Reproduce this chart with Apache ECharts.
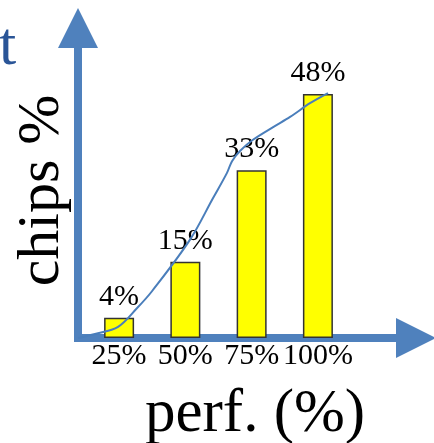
<!DOCTYPE html>
<html><head><meta charset="utf-8">
<script src="https://cdn.jsdelivr.net/npm/echarts@6/dist/echarts.min.js"></script>
<style>html,body{margin:0;padding:0;background:#fff}#c{width:434px;height:443px}</style>
</head><body><div id="c"></div>
<script>
const perfLevels = [25, 50, 75, 100];
const chipShare = [4, 15, 33, 48];
const tickLabels = ['25%', '50%', '75%', '100%'];
const trendPerf = [9.5, 15.9, 24.6, 31.8, 37.4, 51.7, 60.4, 65.7, 67.6, 70.6, 75.5, 83.1, 89.5, 97.0, 103.8];
const trendShare = [0, 0.8, 2.2, 5.9, 9.2, 19.3, 27.5, 32.5, 34.8, 36.8, 39.0, 41.5, 43.5, 46.2, 48.2];
const yAxisTitle = 'chips %';
const xAxisTitle = 'perf. (%)';
const cornerText = 't';

const serif = '"Liberation Serif", "Times New Roman", serif';
const axisBlue = '#4f81bd';

const chart = echarts.init(document.getElementById('c'), null, {renderer: 'canvas'});
chart.setOption({
  animation: false,
  backgroundColor: '#fff',
  title: {
    text: cornerText, left: -1, top: 17, padding: 0,
    textStyle: {fontFamily: serif, fontSize: 62, fontWeight: 'normal', color: '#2a5597'}
  },
  grid: {left: 78, right: 18, top: 28, bottom: 105, containLabel: false, outerBoundsMode: 'none'},
  xAxis: {
    type: 'value', min: 9.5, max: 137,
    name: xAxisTitle, nameLocation: 'middle', nameGap: 46,
    nameTextStyle: {fontFamily: serif, fontSize: 61, color: '#000', padding: [0, 0, 0, 16]},
    axisLine: {show: true, symbol: ['none', 'triangle'], symbolSize: [40, 40],
      lineStyle: {color: axisBlue, width: 8, cap: 'square'}},
    axisTick: {show: false},
    splitLine: {show: false},
    axisLabel: {
      show: true, customValues: perfLevels, margin: 3,
      fontFamily: serif, fontSize: 30, color: '#000',
      formatter: v => tickLabels[perfLevels.indexOf(v)] || ''
    }
  },
  yAxis: {
    type: 'value', min: 0, max: 61,
    name: yAxisTitle, nameLocation: 'middle', nameGap: 6,
    nameTextStyle: {fontFamily: serif, fontSize: 60, color: '#000', padding: [0, 15, 0, 0]},
    axisLine: {show: true, symbol: ['none', 'triangle'], symbolSize: [40, 40],
      lineStyle: {color: axisBlue, width: 8, cap: 'square'}},
    axisTick: {show: false},
    splitLine: {show: false},
    axisLabel: {show: false}
  },
  series: [
    {
      type: 'bar',
      data: perfLevels.map((p, i) => [p, chipShare[i]]),
      barWidth: 30,
      itemStyle: {color: '#ffff00', borderColor: '#333333', borderWidth: 1.5},
      label: {show: true, position: 'top', distance: 6,
        fontFamily: serif, fontSize: 30, color: '#000',
        formatter: p => p.value[1] + '%'}
    },
    {
      type: 'line',
      data: trendPerf.map((p, i) => [p, trendShare[i]]),
      smooth: 0.35,
      showSymbol: false,
      lineStyle: {color: '#4a7ebb', width: 2},
      z: 3
    }
  ]
});
</script>
</body></html>
